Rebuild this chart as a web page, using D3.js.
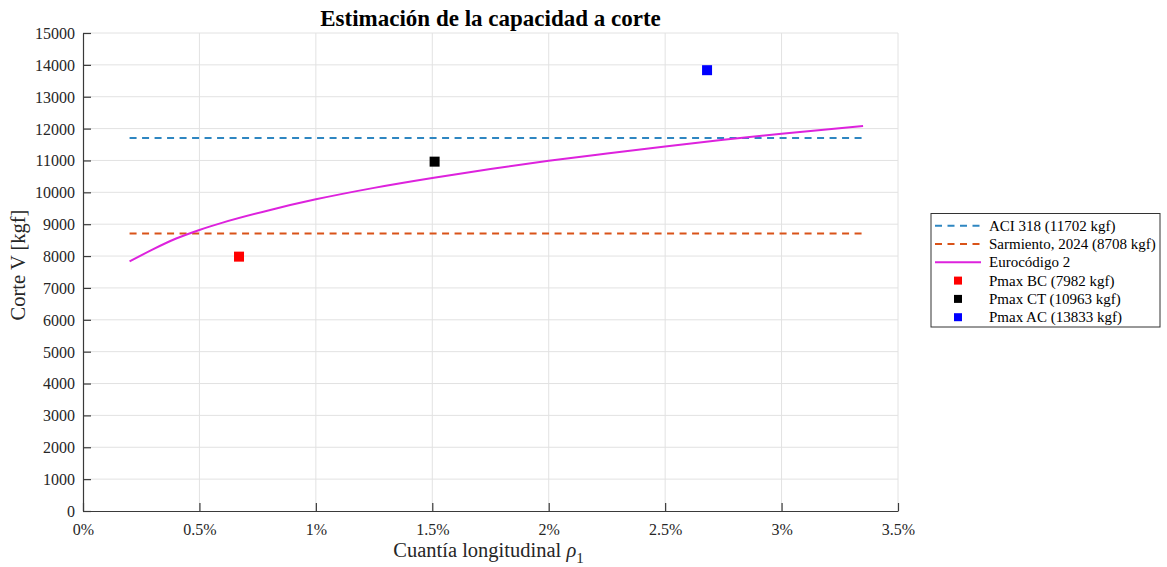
<!DOCTYPE html>
<html>
<head>
<meta charset="utf-8">
<script src="https://cdn.jsdelivr.net/npm/d3@7"></script>
<style>
  html, body { margin: 0; padding: 0; background: #fff; }
  svg { display: block; font-family: "Liberation Serif", "Times New Roman", serif; }
</style>
</head>
<body>
<svg id="chart" width="1167" height="567"></svg>
<script>
// Cuantía longitudinal (%) at which the Eurocódigo 2 curve is sampled
const rhoEC2 = [0.2, 0.3, 0.4, 0.5, 0.6, 0.8, 1.0, 1.25, 1.5, 1.75, 2.0, 2.25, 2.5, 2.75, 3.0, 3.35];
// Corte resistente según Eurocódigo 2 (kgf)
const vEC2 = [7830, 8210, 8550, 8820, 9050, 9440, 9780, 10140, 10450, 10730, 10990, 11220, 11440, 11650, 11840, 12080];

// Horizontal code estimates (kgf) over the range of cuantías studied
const rhoRange = [0.2, 3.35];
const vACI = 11702;
const vSarmiento = 8708;

// Measured peak loads
const specimenNames = ["Pmax BC", "Pmax CT", "Pmax AC"];
const specimenRho = [0.67, 1.51, 2.68];
const specimenV = [7982, 10963, 13833];
const specimenColors = ["#ff0000", "#000000", "#0000ff"];

// Axis ticks
const xTicks = [0, 0.5, 1, 1.5, 2, 2.5, 3, 3.5];
const yTicks = d3.range(0, 15001, 1000);

const svg = d3.select("#chart");
const W = 1167, H = 567;
svg.append("rect").attr("width", W).attr("height", H).attr("fill", "#fff");

const m = { left: 83, right: 898, top: 33, bottom: 511 };
const x = d3.scaleLinear().domain([0, 3.5]).range([m.left, m.right]);
const y = d3.scaleLinear().domain([0, 15000]).range([m.bottom, m.top]);

const axisColor = "#3a3a3a";
const gridColor = "#e2e2e2";

// Grid
const grid = svg.append("g");
grid.selectAll(".gx").data(xTicks.slice(1)).join("line")
  .attr("x1", d => x(d)).attr("x2", d => x(d))
  .attr("y1", m.top).attr("y2", m.bottom)
  .attr("stroke", gridColor).attr("stroke-width", 1);
grid.selectAll(".gy").data(yTicks.slice(1)).join("line")
  .attr("x1", m.left).attr("x2", m.right)
  .attr("y1", d => y(d)).attr("y2", d => y(d))
  .attr("stroke", gridColor).attr("stroke-width", 1);

// Axes (ticks pointing inward)
const xAxis = d3.axisBottom(x).tickValues(xTicks)
  .tickFormat(d => d + "%").tickSizeInner(-8).tickSizeOuter(0).tickPadding(14);
const yAxis = d3.axisLeft(y).tickValues(yTicks)
  .tickFormat(d => d).tickSizeInner(-8).tickSizeOuter(0).tickPadding(8);

const gx = svg.append("g").attr("transform", `translate(0,${m.bottom})`).call(xAxis);
const gy = svg.append("g").attr("transform", `translate(${m.left},0)`).call(yAxis);
[gx, gy].forEach(g => {
  g.attr("font-family", null);
  g.select(".domain").attr("stroke", axisColor).attr("stroke-width", 1.2);
  g.selectAll(".tick line").attr("stroke", axisColor).attr("stroke-width", 1.2);
  g.selectAll(".tick text")
    .attr("fill", "#262626")
    .style("font-family", "'Liberation Serif', 'Times New Roman', serif")
    .style("font-size", "16px");
});
gy.selectAll(".tick text").attr("dy", "0.34em");
gx.selectAll(".tick text").attr("dy", "0.6em");

// Horizontal estimates
const dash = "7,5.5";
const hLines = [
  { v: vACI, color: "#2e86c1" },
  { v: vSarmiento, color: "#d95319" }
];
svg.append("g").selectAll("line").data(hLines).join("line")
  .attr("x1", x(rhoRange[0])).attr("x2", x(rhoRange[1]))
  .attr("y1", d => y(d.v)).attr("y2", d => y(d.v))
  .attr("stroke", d => d.color).attr("stroke-width", 2)
  .attr("stroke-dasharray", dash);

// Eurocódigo 2 curve
const ec2 = rhoEC2.map((r, i) => [r, vEC2[i]]);
svg.append("path").datum(ec2)
  .attr("d", d3.line().x(d => x(d[0])).y(d => y(d[1])).curve(d3.curveMonotoneX))
  .attr("fill", "none").attr("stroke", "#dd22dd").attr("stroke-width", 2);

// Peak loads
const ms = 10;
svg.append("g").selectAll("rect").data(specimenRho).join("rect")
  .attr("x", (d) => x(d) - ms / 2)
  .attr("y", (d, i) => y(specimenV[i]) - ms / 2)
  .attr("width", ms).attr("height", ms)
  .attr("fill", (d, i) => specimenColors[i]);

// Title
svg.append("text")
  .attr("x", (m.left + m.right) / 2).attr("y", 26)
  .attr("text-anchor", "middle")
  .style("font-size", "23px").style("font-weight", "bold")
  .attr("fill", "#000")
  .text("Estimación de la capacidad a corte");

// Axis labels
svg.append("text")
  .attr("transform", `translate(25,265) rotate(-90)`)
  .attr("text-anchor", "middle")
  .style("font-size", "20.5px").attr("fill", "#262626")
  .text("Corte V [kgf]");

const xl = svg.append("text")
  .attr("x", (m.left + m.right) / 2 - 2).attr("y", 557)
  .attr("text-anchor", "middle")
  .style("font-size", "20.5px").attr("fill", "#262626");
xl.append("tspan").text("Cuantía longitudinal ");
xl.append("tspan").style("font-style", "italic").text("ρ");
xl.append("tspan").attr("dy", 6).style("font-size", "15px").text("1");

// Legend
const lg = svg.append("g");
lg.append("rect")
  .attr("x", 931).attr("y", 213.5).attr("width", 229).attr("height", 113.5)
  .attr("fill", "#fff").attr("stroke", "#333").attr("stroke-width", 1);

const legendItems = [
  { label: "ACI 318 (11702 kgf)", type: "dash", color: "#2e86c1" },
  { label: "Sarmiento, 2024 (8708 kgf)", type: "dash", color: "#d95319" },
  { label: "Eurocódigo 2", type: "line", color: "#dd22dd" },
  ...specimenNames.map((n, i) => ({
    label: `${n} (${specimenV[i]} kgf)`, type: "square", color: specimenColors[i]
  }))
];
const rowY = i => 225.7 + i * 18.3;
legendItems.forEach((it, i) => {
  const cy = rowY(i);
  if (it.type === "square") {
    lg.append("rect").attr("x", 958 - 4).attr("y", cy - 4)
      .attr("width", 8).attr("height", 8).attr("fill", it.color);
  } else {
    lg.append("line").attr("x1", 935).attr("x2", 981)
      .attr("y1", cy).attr("y2", cy)
      .attr("stroke", it.color).attr("stroke-width", 2)
      .attr("stroke-dasharray", it.type === "dash" ? dash : null);
  }
  lg.append("text").attr("x", 989).attr("y", cy).attr("dy", "0.33em")
    .style("font-size", "15px").attr("fill", "#000").text(it.label);
});
</script>
</body>
</html>
